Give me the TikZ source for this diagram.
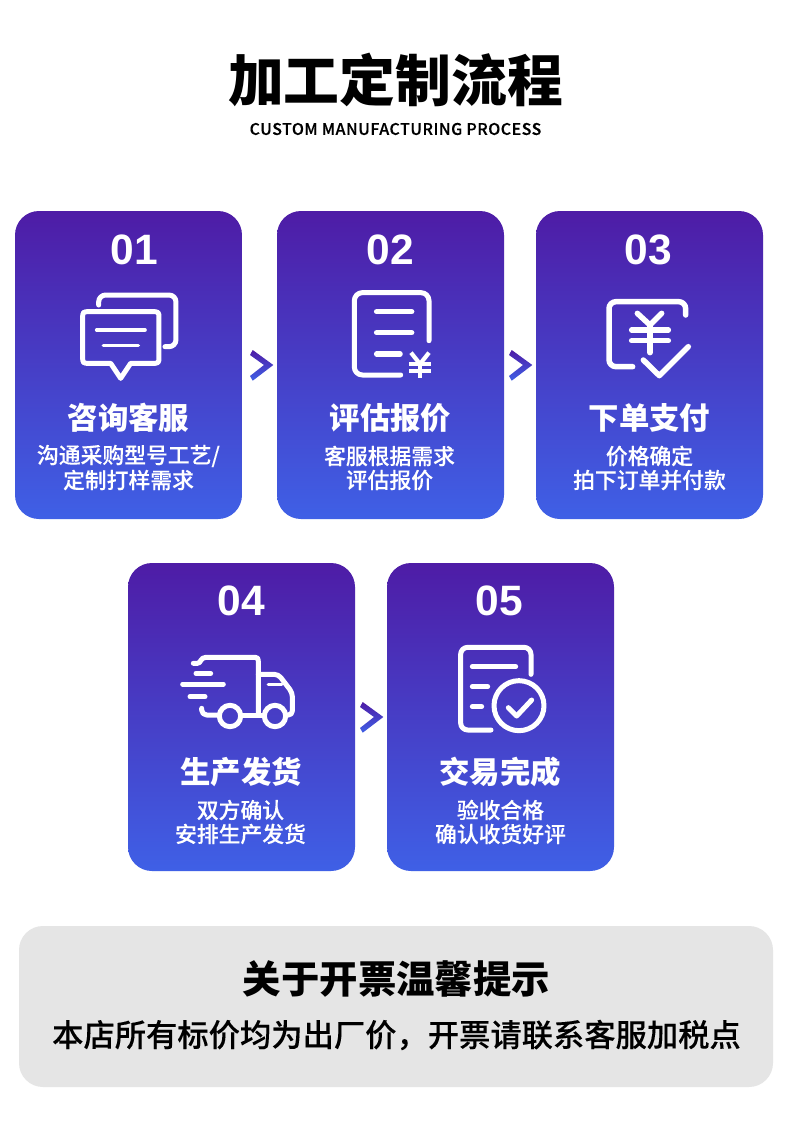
\documentclass[tikz,border=0pt]{standalone}
\usepackage{fontspec}
\setmainfont{Noto Sans CJK SC}
\newfontfamily\medf{Noto Sans CJK SC Medium}[FakeBold=0.1]
\newfontfamily\subf{Noto Sans CJK SC Medium}[FakeBold=0.3,LetterSpace=3]
\newfontfamily\numf{Liberation Sans Bold}
\newcommand{\fs}[1]{\fontsize{#1}{#1}\selectfont}
\definecolor{gtop}{HTML}{4E1CA6}
\definecolor{gbot}{HTML}{3F60E6}
\definecolor{panel}{HTML}{E5E5E5}
\tikzset{
  card/.style={rounded corners=24pt,minimum width=227pt,minimum height=308pt,inner sep=0pt,top color=gtop,bottom color=gbot,draw=none},
  num/.style={text=white,font=\numf\fs{42.5},inner sep=0pt},
  cardtitle/.style={text=white,font=\fs{30.4}\bfseries,inner sep=0pt},
  desc/.style={text=white,font=\medf\fs{21.8},inner sep=0pt,align=center},
  ico/.style={draw=white,line width=5pt,line cap=round,line join=round,rounded corners=7pt},
  icothin/.style={draw=white,line width=3.6pt,line cap=round},
  chev/.style={top color=gtop,bottom color=gbot,draw=none},
}
\newcommand{\chevron}[1]{\path[chev,shift={(#1)}] (-8.9,-15.3) -- (11.7,-0.3) -- (-8.9,15.4) -- (-11.6,10.7) -- (2.4,-0.3) -- (-11.6,-10.3) -- cycle;}
\begin{document}
\begin{tikzpicture}[x=1pt,y=-1pt]
\useasboundingbox (0,0) rectangle (790,1128);
\fill[white] (0,0) rectangle (790,1128);
\node[text=black,font=\fs{55.8}\bfseries,inner sep=0pt] (title) at (395.5,80) {加工定制流程};
\node[text=black,font=\subf\fs{16},inner sep=0pt] (sub) at (395.5,129) {CUSTOM MANUFACTURING PROCESS};
% cards
\node[card] (c1) at (128.5,365) {};
\node[card] (c2) at (390.5,365) {};
\node[card] (c3) at (649.5,365) {};
\node[card] (c4) at (241.5,717) {};
\node[card] (c5) at (500.5,717) {};
% numbers
\node[num] (n1) at (134.5,250) {01};
\node[num] (n2) at (390.5,250) {02};
\node[num] (n3) at (648.5,250) {03};
\node[num] (n4) at (241.5,601) {04};
\node[num] (n5) at (499.5,601) {05};
% titles
\node[cardtitle] (t1) at (128.5,418) {咨询客服};
\node[cardtitle] (t2) at (390.5,418) {评估报价};
\node[cardtitle] (t3) at (649.5,418) {下单支付};
\node[cardtitle] (t4) at (241,772) {生产发货};
\node[cardtitle] (t5) at (500,772) {交易完成};
% descriptions
\node[desc] (d1a) at (128.5,456) {沟通采购型号工艺/};
\node[desc] (d1b) at (128.5,480) {定制打样需求};
\node[desc] (d2a) at (389.5,456) {客服根据需求};
\node[desc] (d2b) at (389.5,480) {评估报价};
\node[desc] (d3a) at (649.5,456) {价格确定};
\node[desc] (d3b) at (649.5,480) {拍下订单并付款};
\node[desc] (d4a) at (240.5,810) {双方确认};
\node[desc] (d4b) at (240.5,834) {安排生产发货};
\node[desc] (d5a) at (500.5,810) {验收合格};
\node[desc] (d5b) at (500.5,834) {确认收货好评};
% chevrons
\chevron{261.6,365.3}
\chevron{520.6,365.3}
\chevron{371.6,717.3}
% icon 1
\begin{scope}[shift={(60,270)},scale=1/3]
\draw[ico] (116,105) -- (116,75) -- (348,75) -- (348,230) -- (315,230);
\draw[ico,rounded corners=0pt] (90,125) -- (275,125) .. controls (297,125) .. (297,147) -- (297,258) .. controls (297,280) .. (275,280) -- (212,280) -- (182,325) -- (152,280) -- (90,280) .. controls (68,280) .. (68,258) -- (68,147) .. controls (68,125) .. (90,125) -- cycle;
\draw[icothin] (110,180) -- (255,180);
\draw[icothin] (130,227) -- (235,227);
\end{scope}
% icon 2
\begin{scope}[shift={(330,270)},scale=1/3]
\draw[ico,rounded corners=8pt] (297,212) -- (297,68) -- (73,68) -- (73,315) -- (212,315);
\draw[ico,line width=5.5pt] (140,125) -- (245,125);
\draw[ico,line width=5.5pt] (140,188) -- (245,188);
\draw[ico,line width=5.5pt] (140,252) -- (210,252);
\draw[draw=white,line width=4.2pt] (243,248) -- (270,282) -- (297,248);
\draw[draw=white,line width=4.2pt] (270,282) -- (270,325);
\draw[draw=white,line width=4pt] (238,282) -- (302,282);
\draw[draw=white,line width=4pt] (238,304) -- (302,304);
\end{scope}
% icon 3
\begin{scope}[shift={(590,280)},scale=1/3]
\draw[ico,line width=5.5pt] (287,105) -- (287,65) -- (57,65) -- (57,260) -- (128,260);
\draw[ico,line width=5.5pt,rounded corners=0pt] (142,100) -- (180,135) -- (215,100);
\draw[ico,line width=5.5pt,rounded corners=0pt] (180,135) -- (180,218);
\draw[ico,line width=5.5pt] (125,150) -- (235,150);
\draw[ico,line width=5.5pt] (125,182) -- (235,182);
\draw[ico,line width=5.5pt,rounded corners=0pt] (160,240) -- (208,287) -- (295,200);
\end{scope}
% icon 4
\begin{scope}[shift={(170,640)},scale=1/3]
\draw[ico,rounded corners=0pt] (70,70) -- (82,70) .. controls (94,70) and (90,52) .. (108,52) -- (245,52) .. controls (265,52) .. (265,72) -- (265,225);
\draw[ico,rounded corners=5pt] (95,205) -- (95,225) -- (145,225);
\draw[ico,rounded corners=0pt] (215,225) -- (280,225);
\draw[ico,rounded corners=4pt] (265,103) -- (325,103) -- (367,158) -- (367,225) -- (350,225);
\draw[icothin] (295,133) -- (335,133);
\draw[ico] (180,228) circle (32);
\draw[ico] (315,228) circle (32);
\draw[ico] (78,100) -- (122,100);
\draw[ico] (38,132) -- (160,132);
\draw[ico] (60,170) -- (105,170);
\end{scope}
% icon 5
\begin{scope}[shift={(445,635)},scale=1/3]
\draw[ico] (258,118) -- (258,37) -- (47,37) -- (47,285) -- (138,285);
\draw[ico] (82,95) -- (212,95);
\draw[ico] (82,155) -- (128,155);
\draw[ico] (82,215) -- (110,215);
\draw[ico] (222,212) circle (75);
\draw[ico,rounded corners=0pt] (190,218) -- (215,243) -- (260,195);
\end{scope}
% panel
\node[rounded corners=24pt,minimum width=754pt,minimum height=161pt,inner sep=0pt,fill=panel] (panel) at (396,1006.5) {};
\node[text=black,font=\fs{38.4}\bfseries,inner sep=0pt] (ph) at (396.5,979) {关于开票温馨提示};
\node[text=black,font=\medf\fs{31.3},inner sep=0pt] (pt) at (396.5,1035) {本店所有标价均为出厂价，开票请联系客服加税点};
\end{tikzpicture}
\end{document}
